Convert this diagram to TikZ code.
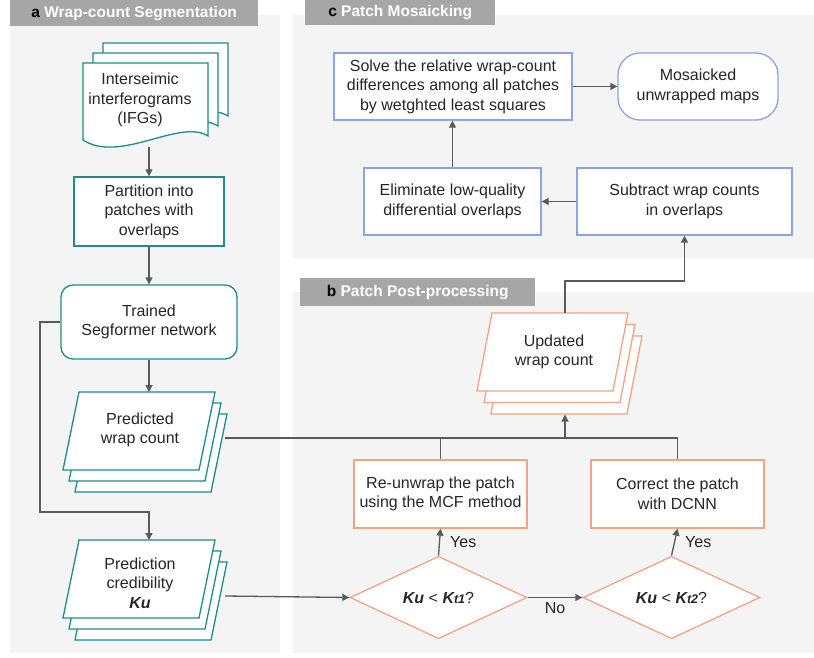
\documentclass[tikz,border=0pt]{standalone}
\usepackage{fontspec}
\setmainfont{Liberation Sans}
\usetikzlibrary{shapes.geometric,arrows.meta}
\definecolor{tealc}{HTML}{1E8C8C}
\definecolor{orngc}{HTML}{F0A486}
\definecolor{bluc}{HTML}{8CA3E6}
\definecolor{arrc}{HTML}{5A5A5A}
\definecolor{bgpc}{HTML}{F4F4F4}
\definecolor{hdrc}{HTML}{A6A6A6}
\newcommand\kbi[1]{\textbf{\textit{#1}}}
\begin{document}
\begin{tikzpicture}[x=1pt,y=-1pt,
  font=\fontsize{16}{19.5}\selectfont,
  txt/.style={align=center, inner sep=0pt, text=black!85},
  tealbox/.style={draw=tealc, line width=1.3pt, fill=white, align=center, inner sep=0pt, text=black!85},
  blubox/.style={draw=bluc, line width=1.3pt, fill=white, align=center, inner sep=0pt, text=black!85},
  orgbox/.style={draw=orngc, line width=1.3pt, fill=white, align=center, inner sep=0pt, text=black!85},
  decision/.style={orgbox, shape=diamond, minimum width=177pt, minimum height=71pt},
  sheet/.style={line width=1.3pt, fill=white},
  panelbg/.style={fill=bgpc, draw=none},
  header/.style={fill=hdrc, draw=none, inner sep=0pt, text=white, font=\fontsize{15.5}{18}\selectfont\bfseries},
  conn/.style={draw=arrc, line width=1.3pt},
  arrow/.style={conn, -{Triangle[length=7pt,width=7pt]}},
  lbl/.style={inner sep=0pt, text=black!85},
]
\useasboundingbox (0,0) rectangle (814,658);
\fill[white] (0,0) rectangle (814,658);
% panel backgrounds
\path[panelbg] (10,15) rectangle (280,653);
\path[panelbg] (293,15) rectangle (814,258);
\path[panelbg] (293,292) rectangle (814,653);
% headers
\node[header, minimum width=248pt, minimum height=26pt, anchor=north west] (ha) at (10,0) {\textcolor{black}{a} Wrap-count Segmentation};
\node[header, minimum width=190pt, minimum height=25pt, anchor=north west] (hc) at (305,0) {\textcolor{black}{c} Patch Mosaicking};
\node[header, minimum width=235pt, minimum height=28pt, anchor=north west] (hb) at (300,278) {\textcolor{black}{b} Patch Post-processing};

% ---- panel a ----
% document stack
\foreach \dx/\dy in {20/20,10/10,0/0}{
  \draw[sheet, draw=tealc, shift={(\dx,-\dy)}] (83,63) -- (208,63) -- (208,136)
     .. controls (180,118) and (120,164) .. (83,140) -- cycle;
}
\node[txt] (ifg) at (140,100) {Interseimic\\interferograms\\(IFGs)};
\coordinate (ifgS) at (149,147);

\node[tealbox, minimum width=150pt, minimum height=69pt] (part) at (149,211.5) {Partition into\\patches with\\overlaps};
\node[tealbox, rounded corners=12pt, minimum width=176pt, minimum height=74pt] (seg) at (149,322) {Trained\\Segformer network};

% predicted wrap count stack
\foreach \dx/\dy in {12/22,6/11,0/0}{
  \draw[sheet, draw=tealc, shift={(\dx,\dy)}] (79,392) -- (215,392) -- (199,470) -- (63,470) -- cycle;
}
\node[txt] (pwc) at (140,430) {Predicted\\wrap count};
\coordinate (pwcN) at (149,392);
\coordinate (pwcE) at (225,438);

% prediction credibility stack
\foreach \dx/\dy in {12/22,6/11,0/0}{
  \draw[sheet, draw=tealc, shift={(\dx,\dy)}] (79,540) -- (215,540) -- (199,618) -- (63,618) -- cycle;
}
\node[txt] (pc) at (140,583) {Prediction\\credibility\\\kbi{Ku}};
\coordinate (pcN) at (149,540);
\coordinate (pcE) at (225,596);

% ---- panel c ----
\node[blubox, minimum width=238pt, minimum height=67pt] (solve) at (453,86.5) {Solve the relative wrap-count\\differences among all patches\\by wetghted least squares};
\node[blubox, rounded corners=22pt, minimum width=160pt, minimum height=67pt] (mosaic) at (698,86.5) {Mosaicked\\unwrapped maps};
\node[blubox, minimum width=177pt, minimum height=67pt] (elim) at (452.5,201.5) {Eliminate low-quality\\differential overlaps};
\node[blubox, minimum width=215pt, minimum height=67pt] (subt) at (684.5,201.5) {Subtract wrap counts\\in overlaps};

% ---- panel b ----
\foreach \dx/\dy in {14/23,7/11.5,0/0}{
  \draw[sheet, draw=orngc, shift={(\dx,\dy)}] (492,313) -- (628,313) -- (613,391) -- (477,391) -- cycle;
}
\node[txt] (upd) at (554,352) {Updated\\wrap count};
\coordinate (updN) at (565,313);
\coordinate (updS) at (565,414.5);

\node[orgbox, minimum width=173pt, minimum height=68pt] (reun) at (440.5,494) {Re-unwrap the patch\\using the MCF method};
\node[orgbox, minimum width=173pt, minimum height=68pt] (corr) at (677.5,494) {Correct the patch\\with DCNN};
\node[decision] (d1) at (438.5,597.5) {\kbi{Ku} < \kbi{K{\fontsize{12.5}{13}\selectfont t1}}?};
\node[decision] (d2) at (671.5,597.5) {\kbi{Ku} < \kbi{K{\fontsize{12.5}{13}\selectfont t2}}?};

% ---- connectors ----
\draw[arrow] (ifgS) -- (part.north);
\draw[arrow] (part.south) -- (seg.north);
\draw[arrow] (seg.south) -- (pwcN);
\draw[arrow] (seg.west) -- (40,322) -- (40,512) -- (149,512) -- (pcN);
\draw[conn] (pwcE) -| (corr.north);
\draw[conn] (reun.north) -- (reun.north |- pwcE);
\draw[arrow] (updS |- pwcE) -- (updS);
\draw[arrow] (pcE) -- (d1.west);
\draw[arrow] (d1.east) -- node[lbl, below=4pt] {No} (d2.west);
\draw[arrow] (d1.north) -- node[lbl, right=10pt] {Yes} (reun.south);
\draw[arrow] (d2.north) -- node[lbl, right=10pt] {Yes} (corr.south);
\draw[arrow] (updN) -- (565,281) -| (subt.south);
\draw[arrow] (subt.west) -- (elim.east);
\draw[arrow] (elim.north) -- (elim.north |- solve.south);
\draw[arrow] (solve.east) -- (mosaic.west);
\end{tikzpicture}
\end{document}
